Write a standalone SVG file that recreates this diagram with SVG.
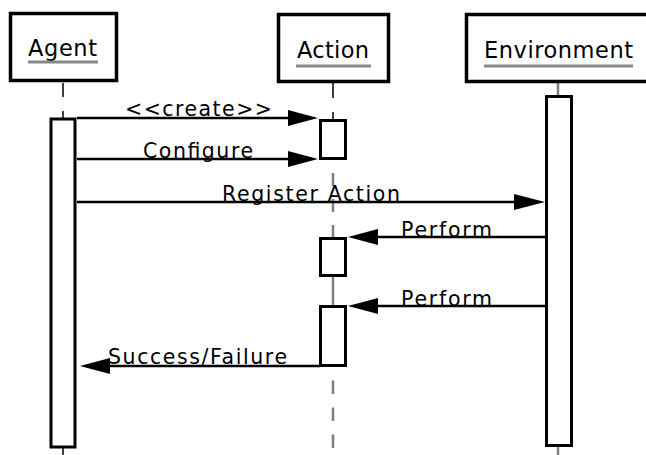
<svg xmlns="http://www.w3.org/2000/svg" width="646" height="455" viewBox="0 0 646 455">
<style>
.box{fill:#fff;stroke:#000;stroke-width:3.5}
.act{fill:#fff;stroke:#000;stroke-width:3}
.nl{font-family:"DejaVu Sans",sans-serif;font-size:22.5px;fill:#000}
.ml{font-family:"DejaVu Sans",sans-serif;font-size:20.5px;fill:#000}
.ul{stroke:#888;stroke-width:3}
.lk{stroke:#000;stroke-width:1.5;fill:none}
.lg{stroke:#808080;stroke-width:2.5;fill:none}
.msg{stroke:#000;stroke-width:2.5;fill:none}
.head{fill:#000}
</style>
<g id="lifelines">
<line class="lk" x1="63" y1="83" x2="63" y2="118" stroke-dasharray="14 14"/>
<line class="lk" x1="63" y1="448" x2="63" y2="455"/>
<line class="lk" x1="333" y1="83" x2="333" y2="120" stroke-dasharray="15 14"/>
<line class="lg" x1="333" y1="160" x2="333" y2="238" stroke-dasharray="13 13" stroke-dashoffset="13"/>
<line class="lg" x1="333" y1="277" x2="333" y2="305"/>
<line class="lg" x1="333" y1="367" x2="333" y2="455" stroke-dasharray="13.5 13.5" stroke-dashoffset="13.5"/>
<line class="lg" x1="558" y1="83" x2="558" y2="96"/>
<line class="lg" x1="558" y1="447" x2="558" y2="455"/>
</g>
<g id="agent">
<rect class="box" x="10.5" y="13.5" width="106" height="67"/>
<text class="nl" x="28" y="56" textLength="69" lengthAdjust="spacing">Agent</text>
<line class="ul" x1="28" y1="62" x2="98" y2="62"/>
<rect class="act" x="51" y="119" width="24" height="328"/>
</g>
<g id="action">
<rect class="box" x="278.5" y="14.5" width="110" height="67"/>
<text class="nl" x="297" y="58" textLength="72" lengthAdjust="spacing">Action</text>
<line class="ul" x1="296" y1="66" x2="371" y2="66"/>
<rect class="act" x="320.5" y="120.5" width="25" height="38"/>
<rect class="act" x="320.5" y="238.5" width="25" height="37"/>
<rect class="act" x="320.5" y="306.5" width="25" height="59"/>
</g>
<g id="environment">
<rect class="box" x="466.5" y="14.5" width="200" height="67"/>
<text class="nl" x="484" y="58" textLength="149" lengthAdjust="spacing">Environment</text>
<line class="ul" x1="484" y1="66" x2="633" y2="66"/>
<rect class="act" x="546.5" y="96.5" width="25" height="349"/>
</g>
<g id="connectors">
<line class="msg" x1="77" y1="118" x2="292" y2="118"/>
<polygon class="head" points="288,110 318,118 288,126"/>
<text class="ml" x="125" y="116" textLength="147" lengthAdjust="spacing">&lt;&lt;create&gt;&gt;</text>
<line class="msg" x1="77" y1="159" x2="292" y2="159"/>
<polygon class="head" points="288,151 318,159 288,167"/>
<text class="ml" x="143" y="158" textLength="110" lengthAdjust="spacing">Configure</text>
<line class="msg" x1="77" y1="202" x2="518" y2="202"/>
<polygon class="head" points="514,194 545,202 514,210"/>
<text class="ml" x="222" y="201" textLength="178" lengthAdjust="spacing">Register Action</text>
<line class="msg" x1="545" y1="237" x2="374" y2="237"/>
<polygon class="head" points="378,229 348,237 378,245"/>
<text class="ml" x="401" y="237" textLength="91" lengthAdjust="spacing">Perform</text>
<line class="msg" x1="545" y1="306" x2="374" y2="306"/>
<polygon class="head" points="378,298 348,306 378,314"/>
<text class="ml" x="401" y="306" textLength="91" lengthAdjust="spacing">Perform</text>
<line class="msg" x1="320" y1="366" x2="106" y2="366"/>
<polygon class="head" points="110,358 80,366 110,374"/>
<text class="ml" x="108" y="364" textLength="179" lengthAdjust="spacing">Success/Failure</text>
</g>
</svg>
